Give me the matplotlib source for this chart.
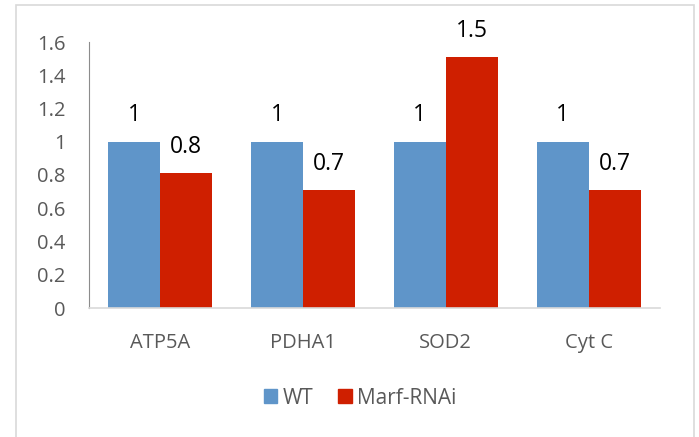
import matplotlib
matplotlib.use("Agg")
import matplotlib.pyplot as plt
from matplotlib.patches import Rectangle, Patch
import numpy as np

CATEGORIES = ["ATP5A", "PDHA1", "SOD2", "Cyt C"]
WT_VALUES = [1.0, 1.0, 1.0, 1.0]
MARF_VALUES = [0.81, 0.71, 1.51, 0.71]
SERIES = ["WT", "Marf-RNAi"]
Y_TICKS = [0, 0.2, 0.4, 0.6, 0.8, 1.0, 1.2, 1.4, 1.6]

BLUE = "#5f95c9"
RED = "#cf1f00"
TEXT = "#595959"

plt.rcParams["font.family"] = ["Open Sans", "DejaVu Sans"]


def fmt(v):
    s = f"{v:.1f}"
    return s[:-2] if s.endswith(".0") else s


W, H = 699, 437
fig = plt.figure(figsize=(W / 100, H / 100), dpi=100)
fig.patches.append(Rectangle((16 / W, -0.1), (694 - 16) / W, 1.1 - 5 / H,
                             transform=fig.transFigure, fill=False,
                             edgecolor="#d9d9d9", lw=1.2))

ax = fig.add_axes([89 / W, 1 - 308 / H, (660 - 89) / W, (308 - 42) / H])
x = np.arange(len(CATEGORIES))
bw = 0.364
b1 = ax.bar(x - bw / 2, WT_VALUES, bw, color=BLUE)
b2 = ax.bar(x + bw / 2, MARF_VALUES, bw, color=RED)

for bars, vals in ((b1, WT_VALUES), (b2, MARF_VALUES)):
    for b, v in zip(bars, vals):
        ax.annotate(fmt(v), (b.get_x() + b.get_width() / 2, v),
                    xytext=(0, 19), textcoords="offset points",
                    ha="center", va="center", fontsize=16.5, color="black")

ax.set_xlim(-0.5, len(CATEGORIES) - 0.5)
ax.set_ylim(0, 1.6)
ax.set_yticks(Y_TICKS)
ax.set_yticklabels([fmt(t) for t in Y_TICKS])
ax.set_xticks(x)
ax.set_xticklabels(CATEGORIES)
ax.tick_params(axis="y", length=0, pad=17, labelsize=14.5, labelcolor=TEXT)
ax.tick_params(axis="x", length=0, pad=18, labelsize=14.5, labelcolor=TEXT)

for s in ("top", "right"):
    ax.spines[s].set_visible(False)
ax.spines["left"].set_color("#8c8c8c")
ax.spines["bottom"].set_color("#d9d9d9")
ax.spines["bottom"].set_linewidth(1.2)

handles = [Patch(color=BLUE, label=SERIES[0]), Patch(color=RED, label=SERIES[1])]
fig.legend(handles=handles, loc="center", bbox_to_anchor=(360 / W, 1 - 398 / H),
           ncol=2, frameon=False, fontsize=15, labelcolor=TEXT,
           handlelength=0.65, handleheight=0.65, handletextpad=0.25,
           columnspacing=1.2)

fig.savefig("out.png", dpi=100)
